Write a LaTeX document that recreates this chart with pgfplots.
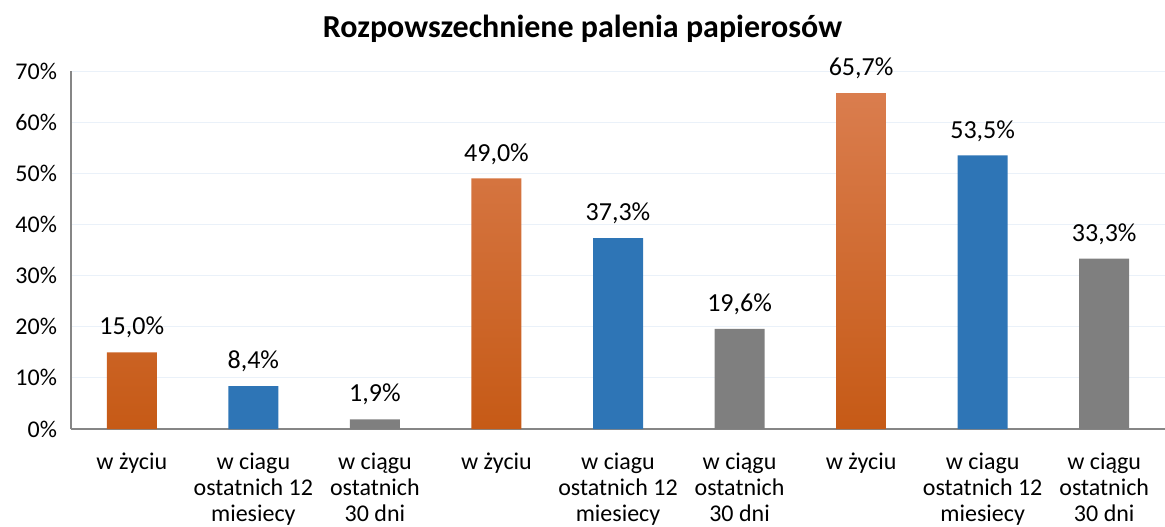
\documentclass[border=0pt]{standalone}
\usepackage{fontspec}
\setmainfont{Carlito}
\usepackage{pgfplots}
\pgfplotsset{compat=1.18}
\definecolor{cOrangeTop}{RGB}{218,125,78}
\definecolor{cOrangeBot}{RGB}{198,90,22}
\definecolor{cBlue}{RGB}{46,117,182}
\definecolor{cGray}{RGB}{127,127,127}
\definecolor{cAxis}{RGB}{134,134,134}
\definecolor{cGrid}{RGB}{234,241,249}

\begin{document}
\begin{tikzpicture}
  \begin{axis}[
    scale only axis,
    width=547pt, height=179pt,
    xmin=-0.5, xmax=8.5,
    ymin=0, ymax=70,
    ytick={0,10,...,70},
    yticklabel={\pgfmathprintnumber{\tick}\%},
    /pgf/number format/assume math mode=true,
    xtick={0,...,8},
    xticklabels={
      {w życiu},
      {w ciagu\\ostatnich 12\\miesiecy},
      {w ciągu\\ostatnich\\30 dni},
      {w życiu},
      {w ciagu\\ostatnich 12\\miesiecy},
      {w ciągu\\ostatnich\\30 dni},
      {w życiu},
      {w ciagu\\ostatnich 12\\miesiecy},
      {w ciągu\\ostatnich\\30 dni}
    },
    xticklabel style={align=center, font=\fontsize{12}{12.9}\selectfont, anchor=north, yshift=-8.5pt},
    yticklabel style={font=\fontsize{12}{13}\selectfont, xshift=-3.5pt},
    major tick length=0pt,
    axis x line*=bottom,
    axis y line*=left,
    axis line style={cAxis, line width=0.9pt, -},
    ymajorgrids,
    grid style={cGrid, line width=0.5pt},
    ybar, bar width=25pt, bar shift=0pt,
    nodes near coords={\pgfmathprintnumber[fixed, fixed zerofill, precision=1, use comma]{\pgfplotspointmeta}\%},
    nodes near coords style={font=\fontsize{13}{14}\selectfont, anchor=south, yshift=3.5pt},
    clip=false,
  ]
  \addplot[draw=none, top color=cOrangeTop, bottom color=cOrangeBot] coordinates {(0,15.0) (3,49.0) (6,65.7)};
  \addplot[draw=none, fill=cBlue] coordinates {(1,8.4) (4,37.3) (7,53.5)};
  \addplot[draw=none, fill=cGray] coordinates {(2,1.9) (5,19.6) (8,33.3)};
  \end{axis}
  \node[font=\fontsize{16}{18}\selectfont\bfseries] at (255.75pt,200pt) {Rozpowszechniene palenia papierosów};
  \pgfresetboundingbox
  \path (-35.5pt,-48.5pt) rectangle (547pt,214.5pt);
\end{tikzpicture}
\end{document}
